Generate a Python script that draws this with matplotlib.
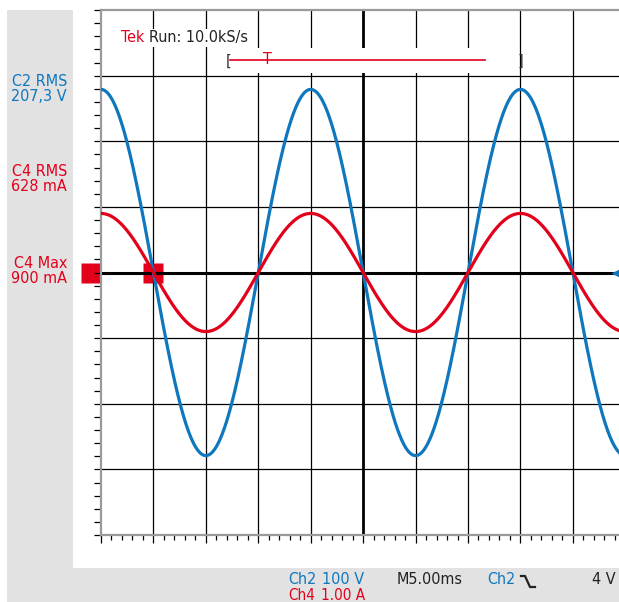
import numpy as np
import matplotlib.pyplot as plt
from matplotlib.patches import Rectangle
from matplotlib.lines import Line2D

# scope settings / readings
ch2_volts_per_div = 100.0
ch4_amps_per_div = 1.0
time_per_div_ms = 5.0
period_ms = 20.0          # 50 Hz mains
ch2_peak_v = 279.0        # blue trace
ch4_peak_a = 0.90         # red trace
screen_width_div = 9.88   # visible part of the 10 div graticule
labels_left = [("C2 RMS\n207,3 V", "blue"), ("C4 RMS\n628 mA", "red"), ("C4 Max\n900 mA", "red")]
label_y_px = [89, 179, 271]

BLUE = '#0f77bd'
RED = '#e3001b'
GRAY = '#e2e2e2'
FS = 11.5
plt.rcParams['font.family'] = ['DejaVu Sans']
plt.rcParams['font.stretch'] = 'condensed'

W, H = 619, 602
fig = plt.figure(figsize=(W / 100, H / 100), dpi=100)

def fx(px):
    return px / W

def fy(py):
    return 1 - py / H

# background panels
fig.patches.append(Rectangle((fx(7), 0), fx(612), fy(10), transform=fig.transFigure,
                             facecolor=GRAY, edgecolor='none', zorder=-2))
fig.patches.append(Rectangle((fx(73), fy(568)), 1 - fx(73), 1 - fy(568), transform=fig.transFigure,
                             facecolor='white', edgecolor='none', zorder=-1))

ax = fig.add_axes([fx(101), fy(535), 1 - fx(101), fy(10) - fy(535)])
ax.set_zorder(1)
ax.set_facecolor('white')
xmax = screen_width_div * time_per_div_ms
ax.set_xlim(0, xmax)
ax.set_ylim(-4, 4)

# graticule
for i in range(1, 10):
    ax.axvline(i * time_per_div_ms, color='black', lw=2.0 if i == 5 else 0.9, zorder=1)
for j in range(-3, 4):
    ax.axhline(j, color='black', lw=2.2 if j == 0 else 0.9, zorder=1)

ax.set_xticks(np.arange(0, xmax, time_per_div_ms))
ax.set_xticks(np.arange(0, xmax, 1.0), minor=True)
ax.set_yticks(np.arange(-4, 5, 1))
ax.set_yticks(np.arange(-4, 4.01, 0.2), minor=True)
ax.tick_params(axis='x', which='major', direction='out', length=6, width=0.9, labelbottom=False)
ax.tick_params(axis='x', which='minor', direction='out', length=3.6, width=0.9)
ax.tick_params(axis='y', which='both', direction='out', length=5, width=0.9, labelleft=False)
for s in ['left', 'bottom', 'top']:
    ax.spines[s].set_color('#9a9a9a')
    ax.spines[s].set_linewidth(1.6)
ax.spines['right'].set_visible(False)

# white gap behind the record bar
ax.add_patch(Rectangle((11.8, 3.04), 27.5, 0.38, facecolor='white', edgecolor='none', zorder=2))

# ground markers
ax.plot([-1.0], [0], marker='s', ms=15, color=RED, mec='none', clip_on=False, zorder=0.5)
ax.plot([time_per_div_ms], [0], marker='s', ms=15, color=RED, mec='none', zorder=0.5)

# traces
t = np.linspace(0, xmax, 2000)
ch2 = ch2_peak_v * np.cos(2 * np.pi * t / period_ms)
ch4 = ch4_peak_a * np.cos(2 * np.pi * t / period_ms)
ax.plot(t, ch2 / ch2_volts_per_div, color=BLUE, lw=2.3, zorder=4)
ax.plot(t, ch4 / ch4_amps_per_div, color=RED, lw=2.3, zorder=5)

# trigger level arrow on the right
ax.plot([xmax - 0.3], [0], marker='<', ms=7, color=BLUE, mec='none', clip_on=False, zorder=6)

# header
ax.text(1.9, 3.58, 'Tek', color=RED, fontsize=FS, va='center', ha='left', zorder=6,
        bbox=dict(facecolor='white', edgecolor='none', pad=1))
ax.text(4.6, 3.58, 'Run: 10.0kS/s', color='#222222', fontsize=FS, va='center', ha='left', zorder=6,
        bbox=dict(facecolor='white', edgecolor='none', pad=1))
ax.plot([12.3, 36.6], [3.24, 3.24], color=RED, lw=1.2, zorder=6)
ax.text(12.2, 3.22, '[', color='#333333', fontsize=FS, va='center', ha='center', zorder=6)
ax.text(15.9, 3.24, 'T', color=RED, fontsize=FS, va='center', ha='center', zorder=6)
ax.text(40.0, 3.22, ']', color='#333333', fontsize=FS, va='center', ha='center', zorder=6)

# measurement labels on the left
cmap = {'blue': BLUE, 'red': RED}
for (txt, c), py in zip(labels_left, label_y_px):
    fig.text(fx(67), fy(py), txt, color=cmap[c], fontsize=FS, ha='right', va='center',
             multialignment='right', linespacing=1.05)

# bottom status bar
row1, row2 = fy(580), fy(596)
fig.text(fx(288), row1, 'Ch2', color=BLUE, fontsize=FS, va='center')
fig.text(fx(364), row1, '100 V', color=BLUE, fontsize=FS, va='center', ha='right')
fig.text(fx(288), row2, 'Ch4', color=RED, fontsize=11, va='center')
fig.text(fx(365), row2, '1.00 A', color=RED, fontsize=11, va='center', ha='right')
fig.text(fx(397), row1, 'M5.00ms', color='#222222', fontsize=FS, va='center')
fig.text(fx(487), row1, 'Ch2', color=BLUE, fontsize=FS, va='center')
fig.text(fx(616), row1, '4 V', color='#222222', fontsize=FS, va='center', ha='right')
fig.add_artist(Line2D([fx(521), fx(525), fx(530), fx(535)], [fy(576), fy(576), fy(587), fy(587)],
                      color='#222222', lw=1.6, transform=fig.transFigure))

fig.savefig('out.png', dpi=100)
